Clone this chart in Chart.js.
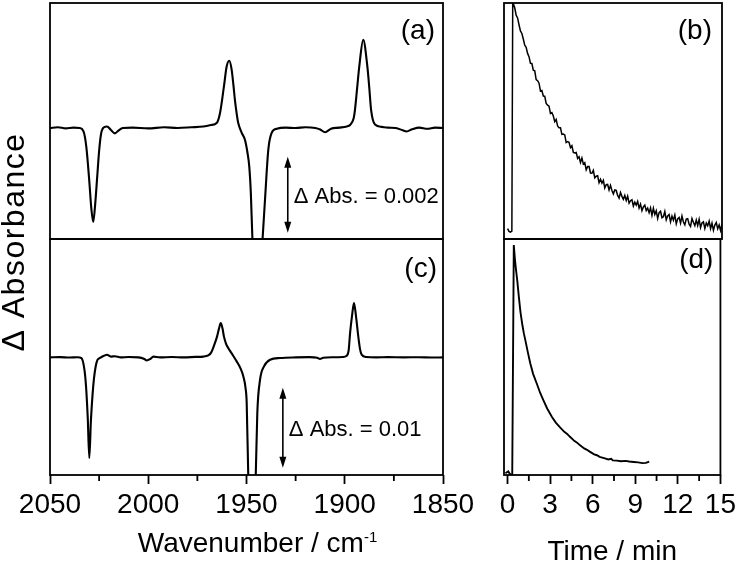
<!DOCTYPE html>
<html>
<head>
<meta charset="utf-8">
<script src="https://cdn.jsdelivr.net/npm/chart.js@4.4.1/dist/chart.umd.min.js"></script>
<style>
  html, body { margin: 0; padding: 0; background: #fff; }
  #wrap { position: relative; width: 740px; height: 563px; }
  #wrap canvas { position: absolute; left: 0; top: 0; }
</style>
</head>
<body>
<div id="wrap">
  <canvas id="cA" width="740" height="563"></canvas>
  <canvas id="cB" width="740" height="563"></canvas>
  <canvas id="cC" width="740" height="563"></canvas>
  <canvas id="cD" width="740" height="563"></canvas>
</div>
<script>
// ---- ticks ----
const waveTicks = [2050, 2000, 1950, 1900, 1850];
const waveMinor = [2025, 1975, 1925, 1875];
const timeTicks = [0, 3, 6, 9, 12, 15];
const timeMinor = [1.5, 4.5, 7.5, 10.5, 13.5];

// ---- (a) difference spectrum, ΔAbs in 1e-3 ----
const waveA = [2050, 2046, 2042, 2038, 2035, 2033, 2031.5, 2030, 2029, 2028, 2027, 2026, 2025, 2024, 2022.5,
  2021, 2019, 2017, 2015, 2013, 2008, 2000, 1992, 1985, 1978, 1972, 1968, 1965.2, 1963.5, 1961.5, 1960.1,
  1958.8, 1957.6, 1956.6, 1955.9, 1955, 1954.2, 1952.5, 1950.8, 1949.5, 1948.6, 1947.8, 1947, 1946, 1944.5,
  1943, 1941.8, 1940.6, 1938.9, 1937.2, 1934.6, 1930, 1925, 1920, 1915, 1912.5, 1910, 1907, 1903, 1899,
  1897.3, 1895.5, 1894.8, 1893.7, 1892.6, 1890.6, 1888.5, 1887.5, 1886.6, 1884.6, 1881.2, 1878, 1874,
  1870.5, 1868.5, 1866, 1862, 1858, 1854, 1850];
const absA = [0.00, 0.02, -0.01, 0.01, 0.00, -0.08, -0.5, -1.4, -2.1, -2.47, -2.0, -1.3, -0.6, -0.15, 0.02,
  0.04, -0.05, -0.14, -0.06, 0.0, 0.01, -0.01, 0.02, 0.0, 0.02, 0.04, 0.08, 0.13, 0.39, 1.09, 1.62,
  1.77, 1.55, 1.1, 0.74, 0.38, 0.13, -0.12, -0.31, -0.65, -1.01, -1.7, -2.9, -3.8, -4.3,
  -3.8, -2.9, -1.9, -0.57, -0.13, -0.02, 0.01, 0.0, 0.02, 0.0, -0.04, -0.11, -0.02, 0.01, 0.04,
  0.08, 0.25, 0.48, 1.05, 1.62, 2.32, 1.62, 1.05, 0.48, 0.09, 0.03, 0.01, 0.0,
  -0.06, -0.09, -0.04, 0.01, -0.02, 0.01, 0.0];

// ---- (c) difference spectrum, ΔAbs in 1e-3 ----
const waveC = [2050, 2045, 2040, 2036, 2034, 2032.5, 2031.7, 2030.8, 2030, 2029.2, 2028.3, 2027.6, 2026.8,
  2025.9, 2024.5, 2022.5, 2021, 2019, 2017, 2014, 2010, 2005, 2002, 2000.8, 1999, 1997.4, 1994, 1988, 1982,
  1976, 1972, 1969.5, 1968, 1966.5, 1965, 1964, 1963.1, 1962.2, 1961.5, 1960.4, 1959.3, 1957, 1955, 1953,
  1951.6, 1950.5, 1949.9, 1949.1, 1948.3, 1947.2, 1946.2, 1945.3, 1944.5, 1943.1, 1941.1, 1938, 1932.9,
  1925, 1918, 1914, 1912.6, 1911, 1906, 1901, 1899, 1898, 1897.3, 1896.3, 1895.3, 1894.3, 1893.1, 1892.2,
  1891.4, 1889, 1884, 1878, 1870, 1862, 1856, 1850];
const absC = [0.0, 0.03, -0.02, 0.02, -0.1, -1.5, -3.5, -7.5, -12.58, -8.0, -4.5, -2.6, -1.2,
  -0.35, -0.05, 0.2, 0.34, 0.1, 0.15, 0.0, 0.05, 0.0, -0.2, -0.38, -0.2, 0.1, 0.0, 0.05, 0.0,
  0.06, 0.1, 0.25, 0.6, 1.5, 2.6, 3.6, 4.3, 3.6, 2.63, 1.7, 1.18, 0.3, -0.5, -1.4,
  -2.38, -3.8, -5.7, -14.8, -20, -24, -20, -14.8, -6.95, -2.79, -1.13, -0.29, -0.08,
  0.0, 0.03, -0.05, -0.2, -0.05, 0.02, 0.05, 0.2, 0.9, 3.0, 5.2, 6.8, 5.2, 2.6, 1.0,
  0.34, 0.05, 0.0, 0.03, 0.0, 0.02, -0.01, 0.0];

// ---- (b) kinetic trace, normalised ----
const timeB = [0.0, 0.1, 0.2, 0.3, 0.36,
  0.5, 0.6, 0.7, 0.8, 0.9, 1.0, 1.1, 1.2, 1.3, 1.4, 1.5, 1.6, 1.7, 1.8, 1.9, 2.0,
  2.1, 2.2, 2.3, 2.4, 2.5, 2.6, 2.7, 2.8, 2.9, 3.0, 3.1, 3.2, 3.3, 3.4, 3.5, 3.6, 3.7, 3.8, 3.9, 4.0,
  4.1, 4.2, 4.3, 4.4, 4.5, 4.6, 4.7, 4.8, 4.9, 5.0, 5.1, 5.2, 5.3, 5.4, 5.5, 5.6, 5.7, 5.8, 5.9, 6.0,
  6.1, 6.2, 6.3, 6.4, 6.5, 6.6, 6.7, 6.8, 6.9, 7.0, 7.1, 7.2, 7.3, 7.4, 7.5, 7.6, 7.7, 7.8, 7.9, 8.0,
  8.1, 8.2, 8.3, 8.4, 8.5, 8.6, 8.7, 8.8, 8.9, 9.0, 9.1, 9.2, 9.3, 9.4, 9.5, 9.6, 9.7, 9.8, 9.9, 10.0,
  10.1, 10.2, 10.3, 10.4, 10.5, 10.6, 10.7, 10.8, 10.9, 11.0, 11.1, 11.2, 11.3, 11.4, 11.5, 11.6, 11.7, 11.8, 11.9, 12.0,
  12.1, 12.2, 12.3, 12.4, 12.5, 12.6, 12.7, 12.8, 12.9, 13.0, 13.1, 13.2, 13.3, 13.4, 13.5, 13.6, 13.7, 13.8, 13.9, 14.0,
  14.1, 14.2, 14.3, 14.4, 14.5, 14.6, 14.7, 14.8, 14.9, 15.0];
const absB = [0.015, 0.003, 0.0, 0.004, 1.005,
  0.979, 0.947, 0.935, 0.905, 0.878, 0.867, 0.843, 0.816, 0.807, 0.780, 0.766, 0.737, 0.736, 0.707, 0.704, 0.666,
  0.661, 0.650, 0.616, 0.618, 0.594, 0.593, 0.562, 0.554, 0.550, 0.518, 0.522, 0.507, 0.482, 0.492, 0.463, 0.455, 0.455, 0.427, 0.428, 0.424,
  0.391, 0.395, 0.392, 0.369, 0.377, 0.348, 0.346, 0.348, 0.322, 0.329, 0.304, 0.323, 0.297, 0.303, 0.272, 0.286, 0.286, 0.258, 0.257, 0.270,
  0.237, 0.244, 0.246, 0.216, 0.231, 0.214, 0.226, 0.193, 0.207, 0.208, 0.184, 0.204, 0.182, 0.167, 0.184, 0.182, 0.160, 0.148, 0.173, 0.156,
  0.143, 0.160, 0.138, 0.157, 0.126, 0.137, 0.141, 0.114, 0.131, 0.118, 0.134, 0.105, 0.122, 0.094, 0.110, 0.118, 0.094, 0.105, 0.085, 0.106,
  0.073, 0.104, 0.077, 0.093, 0.060, 0.085, 0.091, 0.063, 0.067, 0.090, 0.054, 0.071, 0.077, 0.045, 0.070, 0.052, 0.075, 0.036, 0.058, 0.064,
  0.039, 0.070, 0.044, 0.032, 0.057, 0.059, 0.035, 0.025, 0.059, 0.043, 0.028, 0.053, 0.029, 0.056, 0.020, 0.040, 0.045, 0.016, 0.040, 0.028,
  0.048, 0.015, 0.039, 0.008, 0.031, 0.042, 0.015, 0.031, 0.007, 0.036];

// ---- (d) kinetic trace, normalised ----
const timeD = [-0.15, -0.05, 0.05, 0.15, 0.25, 0.33, 0.44, 0.52, 0.6, 0.68, 0.8, 0.91, 1.05, 1.15, 1.26,
  1.45, 1.6, 1.8, 2.07, 2.3, 2.53, 2.8, 3.12, 3.4, 3.7, 4.0, 4.2, 4.4, 4.7, 4.9, 5.09, 5.4, 5.6, 5.79,
  6.1, 6.3, 6.49, 6.8, 7.1, 7.3, 7.42, 7.7, 8.0, 8.3, 8.58, 8.9, 9.2, 9.51, 9.75, 9.98];
const absD = [-0.012, -0.008, -0.004, -0.014, -0.02, -0.02, 1.003, 0.94, 0.89, 0.848, 0.77, 0.705, 0.645,
  0.61, 0.578, 0.52, 0.477, 0.43, 0.385, 0.345, 0.312, 0.275, 0.239, 0.213, 0.192, 0.172, 0.163, 0.150,
  0.132, 0.124, 0.113, 0.098, 0.092, 0.084, 0.072, 0.068, 0.061, 0.055, 0.049, 0.052, 0.045, 0.044, 0.041,
  0.043, 0.040, 0.038, 0.036, 0.033, 0.034, 0.040];

const FONT = "'Liberation Sans', Arial, 'DejaVu Sans', sans-serif";
Chart.defaults.font.family = FONT;
Chart.defaults.color = '#000';

const W = 740, H = 563;
// panel edges in page pixels
const L = 50, M = 443, RL = 504, R = 722, T = 3, S = 239, B = 475;

const toXY = (xs, ys) => xs.map((v, i) => ({ x: v, y: ys[i] }));

// frame round the plot area
const framePlugin = {
  id: 'frame',
  afterDraw(chart) {
    const { ctx, chartArea: a } = chart;
    ctx.save();
    ctx.strokeStyle = '#000';
    ctx.lineWidth = 1.8;
    ctx.strokeRect(a.left, a.top, a.right - a.left, a.bottom - a.top);
    ctx.restore();
  }
};

// short ticks between the labelled ones
const minorPlugin = {
  id: 'minorTicks',
  afterDraw(chart, args, opts) {
    if (!opts.values) return;
    const { ctx, chartArea: a } = chart;
    const x = chart.scales.x;
    ctx.save();
    ctx.strokeStyle = '#000';
    ctx.lineWidth = 1.8;
    ctx.beginPath();
    opts.values.forEach(v => {
      const px = x.getPixelForValue(v);
      ctx.moveTo(px, a.bottom);
      ctx.lineTo(px, a.bottom + opts.length);
    });
    ctx.stroke();
    ctx.restore();
  }
};

// (a) (b) ... in the corner
const panelPlugin = {
  id: 'panelLabel',
  afterDraw(chart, args, opts) {
    if (!opts.text) return;
    const { ctx, chartArea: a } = chart;
    ctx.save();
    ctx.font = '28px ' + FONT;
    ctx.fillStyle = '#000';
    ctx.textAlign = 'right';
    ctx.textBaseline = 'middle';
    ctx.fillText(opts.text, a.right - opts.inset, a.top + opts.drop);
    ctx.restore();
  }
};

// double arrow scale bar
const barPlugin = {
  id: 'scaleBar',
  afterDraw(chart, args, opts) {
    if (!opts.text) return;
    const { ctx } = chart;
    const { x, y } = chart.scales;
    const px = x.getPixelForValue(opts.at);
    const y1 = y.getPixelForValue(opts.from);
    const y2 = y.getPixelForValue(opts.to);
    const head = 11, half = 3.5;
    ctx.save();
    ctx.strokeStyle = '#000';
    ctx.fillStyle = '#000';
    ctx.lineWidth = 1.6;
    ctx.beginPath();
    ctx.moveTo(px, y1 + head - 1);
    ctx.lineTo(px, y2 - head + 1);
    ctx.stroke();
    ctx.beginPath();
    ctx.moveTo(px, y1); ctx.lineTo(px - half, y1 + head); ctx.lineTo(px + half, y1 + head); ctx.closePath();
    ctx.moveTo(px, y2); ctx.lineTo(px - half, y2 - head); ctx.lineTo(px + half, y2 - head); ctx.closePath();
    ctx.fill();
    ctx.font = '22px ' + FONT;
    ctx.textAlign = 'left';
    ctx.textBaseline = 'middle';
    ctx.fillText(opts.text, px + 6, (y1 + y2) / 2 + 2);
    ctx.restore();
  }
};

// x axis title with a superscript part
const xTitlePlugin = {
  id: 'xTitle',
  afterDraw(chart, args, opts) {
    if (!opts.text) return;
    const { ctx, chartArea: a } = chart;
    ctx.save();
    ctx.fillStyle = '#000';
    ctx.textBaseline = 'alphabetic';
    ctx.textAlign = 'left';
    ctx.font = '28px ' + FONT;
    const w1 = ctx.measureText(opts.text).width;
    ctx.font = '15px ' + FONT;
    const w2 = opts.sup ? ctx.measureText(opts.sup).width : 0;
    const x0 = (a.left + a.right) / 2 + opts.dx - (w1 + w2) / 2;
    ctx.font = '28px ' + FONT;
    ctx.fillText(opts.text, x0, opts.baseline);
    if (opts.sup) {
      ctx.font = '15px ' + FONT;
      ctx.fillText(opts.sup, x0 + w1, opts.baseline - 10);
    }
    ctx.restore();
  }
};

// shared y title
const yTitlePlugin = {
  id: 'yTitle',
  afterDraw(chart, args, opts) {
    if (!opts.text) return;
    const { ctx } = chart;
    ctx.save();
    ctx.translate(opts.x, opts.y);
    ctx.rotate(-Math.PI / 2);
    ctx.font = '32px ' + FONT;
    if ('letterSpacing' in ctx) ctx.letterSpacing = '1.5px';
    ctx.fillStyle = '#000';
    ctx.textAlign = 'center';
    ctx.textBaseline = 'middle';
    ctx.fillText(opts.text, 0, 0);
    ctx.restore();
  }
};

function bottomAxis(min, max, ticks, reverse) {
  return {
    type: 'linear', min, max, reverse,
    afterBuildTicks: s => { s.ticks = ticks.map(v => ({ value: v })); },
    afterFit: s => { s.height = H - B; },
    ticks: { font: { size: 28 }, padding: 4, maxRotation: 0, autoSkip: false, callback: v => String(v) },
    grid: { drawOnChartArea: false, drawTicks: true, tickLength: 9, tickWidth: 1.8, tickColor: '#000' },
    border: { display: false }
  };
}

function makeChart(id, cfg) {
  return new Chart(document.getElementById(id), {
    type: 'line',
    data: {
      datasets: [{
        data: cfg.data,
        borderColor: '#000',
        borderWidth: cfg.lineWidth,
        pointRadius: 0,
        fill: false,
        cubicInterpolationMode: cfg.smooth ? 'monotone' : 'default',
        tension: 0
      }]
    },
    options: {
      responsive: false,
      animation: false,
      events: [],
      layout: { padding: cfg.padding },
      scales: {
        x: cfg.x,
        y: { display: false, min: cfg.yMin, max: cfg.yMax }
      },
      plugins: {
        legend: { display: false },
        tooltip: { enabled: false },
        panelLabel: cfg.label,
        scaleBar: cfg.bar || {},
        minorTicks: cfg.minor || {},
        xTitle: cfg.xTitle || {},
        yTitle: cfg.yTitle || {}
      }
    },
    plugins: [framePlugin, minorPlugin, panelPlugin, barPlugin, xTitlePlugin, yTitlePlugin]
  });
}

// (a)
makeChart('cA', {
  data: toXY(waveA, absA), smooth: true, lineWidth: 2.1,
  padding: { left: L, top: T, right: W - M, bottom: H - S },
  x: { type: 'linear', display: false, min: 1850, max: 2050, reverse: true },
  yMin: -2.92, yMax: 3.29,
  label: { text: '(a)', inset: 8, drop: 28 },
  bar: { at: 1929, from: -0.755, to: -2.755, text: 'Δ Abs. = 0.002' },
  yTitle: { text: 'Δ Absorbance', x: 15, y: 242 }
});

// (c)
makeChart('cC', {
  data: toXY(waveC, absC), smooth: true, lineWidth: 2.1,
  padding: { left: L, top: S, right: W - M, bottom: 0 },
  x: bottomAxis(1850, 2050, waveTicks, true),
  yMin: -14.7, yMax: 14.8,
  label: { text: '(c)', inset: 6, drop: 30 },
  bar: { at: 1931.5, from: -3.8, to: -13.8, text: 'Δ Abs. = 0.01' },
  minor: { values: waveMinor, length: 6 },
  xTitle: { text: 'Wavenumber / cm', sup: '-1', dx: 11, baseline: 552 }
});

// (b)
makeChart('cB', {
  data: toXY(timeB, absB), smooth: false, lineWidth: 1.5,
  padding: { left: RL, top: T, right: W - R, bottom: H - S },
  x: { type: 'linear', display: false, min: -0.25, max: 15 },
  yMin: -0.03, yMax: 1.0,
  label: { text: '(b)', inset: 10, drop: 28 }
});

// (d)
makeChart('cD', {
  data: toXY(timeD, absD), smooth: false, lineWidth: 1.9,
  padding: { left: RL, top: S, right: W - R, bottom: 0 },
  x: bottomAxis(-0.25, 15, timeTicks, false),
  yMin: -0.02, yMax: 1.03,
  label: { text: '(d)', inset: 7, drop: 21 },
  minor: { values: timeMinor, length: 6 },
  xTitle: { text: 'Time / min', dx: 0, baseline: 560 }
});
</script>
</body>
</html>
